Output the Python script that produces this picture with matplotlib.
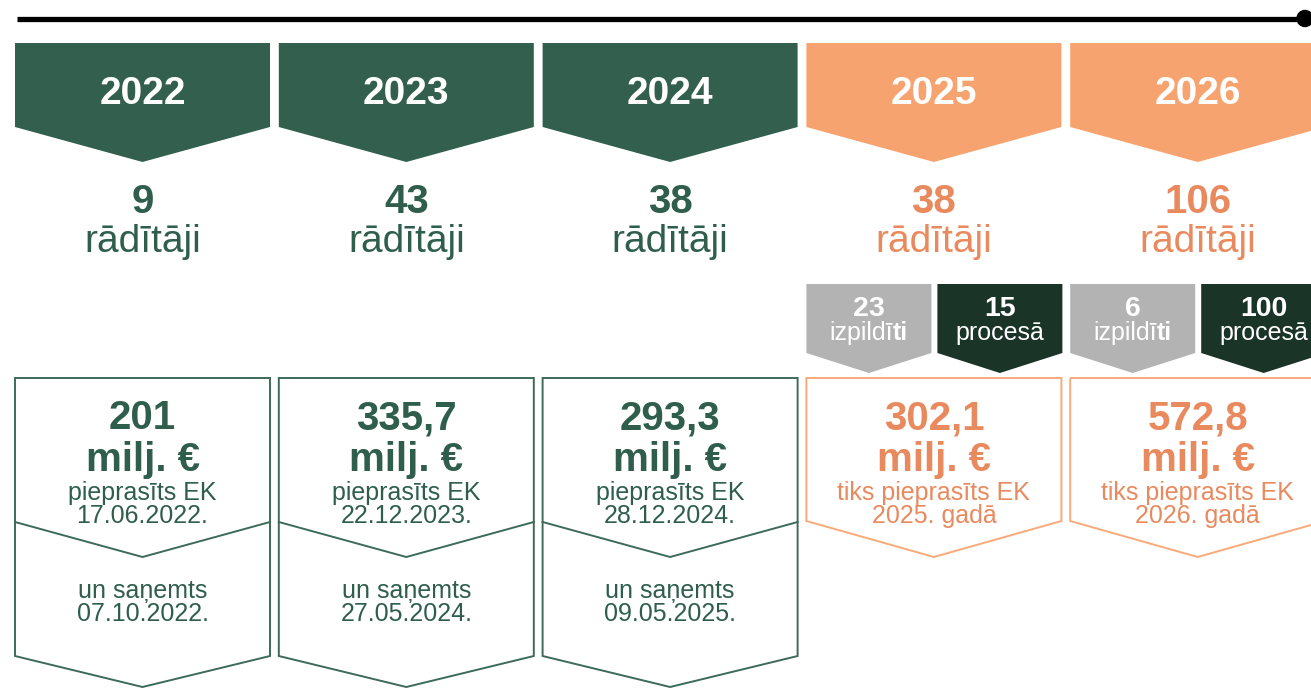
import matplotlib
matplotlib.use("Agg")
import matplotlib.pyplot as plt
from matplotlib.patches import Polygon, Circle

plt.rcParams['font.family'] = ['Liberation Sans', 'DejaVu Sans']

# ---- data ----
years = ['2022', '2023', '2024', '2025', '2026']
indicators = [9, 43, 38, 38, 106]
indicator_label = 'rādītāji'
done = [None, None, None, 23, 6]
in_process = [None, None, None, 15, 100]
done_label_regular = 'izpildī'
done_label_bold = 'ti'
process_label = 'procesā'
amounts = ['201', '335,7', '293,3', '302,1', '572,8']
amount_unit = 'milj. €'
request_line1 = ['pieprasīts EK', 'pieprasīts EK', 'pieprasīts EK',
                 'tiks pieprasīts EK', 'tiks pieprasīts EK']
request_line2 = ['17.06.2022.', '22.12.2023.', '28.12.2024.',
                 '2025. gadā', '2026. gadā']
received_label = 'un saņemts'
received_dates = ['07.10.2022.', '27.05.2024.', '09.05.2025.', None, None]
is_planned = [False, False, False, True, True]

# ---- style ----
GREEN = '#335F4F'
GREEN_TXT = '#2F5E4D'
GREEN_LINE = '#3D6A59'
ORANGE = '#F7A36F'
ORANGE_TXT = '#E98A5E'
ORANGE_LINE = '#F8AA7A'
GRAY = '#B3B3B3'
DARK = '#1B3428'

W, H = 1311, 688
fig = plt.figure(figsize=(W / 100, H / 100), dpi=100)
ax = fig.add_axes([0, 0, 1, 1])
ax.set_xlim(0, W)
ax.set_ylim(H, 0)
ax.axis('off')

# timeline
ax.plot([17, 1305], [18.5, 18.5], color='black', lw=3.8, solid_capstyle='butt')
ax.add_patch(Circle((1305, 18.5), 8, color='black'))

col_left0, pitch, col_w = 15, 263.8, 255


def chevron(x0, x1, top, side, tip, **kw):
    xc = (x0 + x1) / 2
    return Polygon([(x0, top), (x1, top), (x1, side), (xc, tip), (x0, side)],
                   closed=True, **kw)


split_labels = []  # (regular text, bold text, centre x)

for i, yr in enumerate(years):
    x0 = col_left0 + i * pitch
    x1 = x0 + col_w
    xc = (x0 + x1) / 2
    planned = is_planned[i]
    fill = ORANGE if planned else GREEN
    tcol = ORANGE_TXT if planned else GREEN_TXT
    lcol = ORANGE_LINE if planned else GREEN_LINE

    # year chevron
    ax.add_patch(chevron(x0, x1, 43, 127, 162, facecolor=fill, edgecolor='none'))
    ax.text(xc, 104, yr, color='white', fontsize=28, fontweight='bold',
            ha='center', va='baseline')

    # indicators
    ax.text(xc, 213, str(indicators[i]), color=tcol, fontsize=29,
            fontweight='bold', ha='center', va='baseline')
    ax.text(xc, 252, indicator_label, color=tcol, fontsize=28,
            ha='center', va='baseline')

    # sub-chevrons (done / in process)
    if done[i] is not None:
        gx0, gx1 = x0, x0 + 125
        dx0, dx1 = x0 + 131, x0 + 256
        ax.add_patch(chevron(gx0, gx1, 284, 353, 373, facecolor=GRAY, edgecolor='none'))
        ax.add_patch(chevron(dx0, dx1, 284, 353, 373, facecolor=DARK, edgecolor='none'))
        ax.text((gx0 + gx1) / 2, 316, str(done[i]), color='white', fontsize=20.5,
                fontweight='bold', ha='center', va='baseline')
        t1 = ax.text((gx0 + gx1) / 2, 340, done_label_regular, color='white',
                     fontsize=18, ha='left', va='baseline')
        t2 = ax.text((gx0 + gx1) / 2, 340, done_label_bold, color='white',
                     fontsize=18, fontweight='bold', ha='left', va='baseline')
        split_labels.append((t1, t2, (gx0 + gx1) / 2))
        ax.text((dx0 + dx1) / 2, 316, str(in_process[i]), color='white', fontsize=20.5,
                fontweight='bold', ha='center', va='baseline')
        ax.text((dx0 + dx1) / 2, 340, process_label, color='white', fontsize=18,
                ha='center', va='baseline')

    # amount boxes
    if planned:
        ax.add_patch(chevron(x0, x1, 378, 521, 557, facecolor='none',
                             edgecolor=lcol, lw=1.4))
    else:
        ax.add_patch(chevron(x0, x1, 378, 656, 687, facecolor='none',
                             edgecolor=lcol, lw=1.4))
        ax.plot([x0, xc, x1], [522, 557, 522], color=lcol, lw=1.4)

    ax.text(xc, 429, amounts[i], color=tcol, fontsize=29, fontweight='bold',
            ha='center', va='baseline')
    ax.text(xc, 471, amount_unit, color=tcol, fontsize=29, fontweight='bold',
            ha='center', va='baseline')
    ax.text(xc, 500, request_line1[i], color=tcol, fontsize=18,
            ha='center', va='baseline')
    ax.text(xc, 523, request_line2[i], color=tcol, fontsize=18,
            ha='center', va='baseline')

    if received_dates[i] is not None:
        ax.text(xc, 598, received_label, color=tcol, fontsize=18,
                ha='center', va='baseline')
        ax.text(xc, 621, received_dates[i], color=tcol, fontsize=18,
                ha='center', va='baseline')

# centre the mixed-weight "izpildīti" labels
fig.canvas.draw()
renderer = fig.canvas.get_renderer()
for t1, t2, cx in split_labels:
    w1 = t1.get_window_extent(renderer).width
    w2 = t2.get_window_extent(renderer).width
    start = cx - (w1 + w2) / 2
    y = t1.get_position()[1]
    t1.set_position((start, y))
    t2.set_position((start + w1, y))

fig.savefig('out.png', dpi=100)
